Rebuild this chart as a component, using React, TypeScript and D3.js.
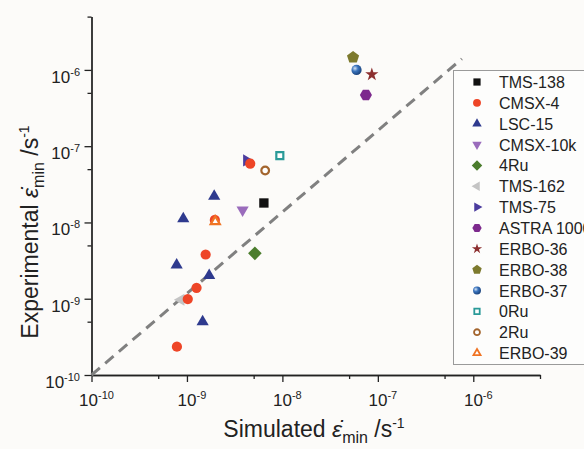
import React, { useEffect, useRef } from "react";
import * as d3 from "d3";

// simulated vs experimental minimum creep rate, [simulated, experimental] in 1/s
const tms138 = [[6.4e-9, 1.8e-8]];
const cmsx4 = [
  [4.6e-9, 5.9e-8],
  [1.96e-9, 1.08e-8],
  [1.57e-9, 3.8e-9],
  [1.26e-9, 1.39e-9],
  [1.02e-9, 9.9e-10],
  [7.85e-10, 2.35e-10],
];
const lsc15 = [
  [1.93e-9, 2.2e-8],
  [9.15e-10, 1.12e-8],
  [7.8e-10, 2.77e-9],
  [1.71e-9, 2.01e-9],
  [1.46e-9, 5.0e-10],
];
const cmsx10k = [[3.83e-9, 1.46e-8]];
const ru4 = [[5.15e-9, 3.94e-9]];
const tms162 = [[8.65e-10, 9.7e-10]];
const tms75 = [[4.22e-9, 6.5e-8]];
const astra = [[7.5e-8, 4.7e-7]];
const erbo36 = [[8.65e-8, 8.7e-7]];
const erbo38 = [[5.5e-8, 1.46e-6]];
const erbo37 = [[5.98e-8, 1.0e-6]];
const ru0 = [[9.4e-9, 7.5e-8]];
const ru2 = [[6.6e-9, 4.8e-8]];
const erbo39 = [[1.98e-9, 1.03e-8]];

const seriesNames = [
  "TMS-138", "CMSX-4", "LSC-15", "CMSX-10k", "4Ru", "TMS-162", "TMS-75",
  "ASTRA 1000", "ERBO-36", "ERBO-38", "ERBO-37", "0Ru", "2Ru", "ERBO-39",
];
const seriesValues = [
  tms138, cmsx4, lsc15, cmsx10k, ru4, tms162, tms75,
  astra, erbo36, erbo38, erbo37, ru0, ru2, erbo39,
];

const majorTicks = [1e-10, 1e-9, 1e-8, 1e-7, 1e-6];
const minorTicks = [5e-10, 5e-9, 5e-8, 5e-7, 5e-6];
const tickExponents = ["-10", "-9", "-8", "-7", "-6"];
const parityLine = [
  [1e-10, 1e-10],
  [7.6e-7, 1.4e-6],
];

// marker style per series (legend order)
const markerStyles = [
  { shape: "square", color: "#111111", open: false },
  { shape: "circle", color: "#ee4527", open: false },
  { shape: "up", color: "#2e3a8e", open: false },
  { shape: "down", color: "#9a6cbc", open: false },
  { shape: "diamond", color: "#4b7d2d", open: false },
  { shape: "left", color: "#c4c4c4", open: false },
  { shape: "right", color: "#4b3c9e", open: false },
  { shape: "hexagon", color: "#7d2a8d", open: false },
  { shape: "star", color: "#8c2f2f", open: false },
  { shape: "pentagon", color: "#7d7a2e", open: false },
  { shape: "sphere", color: "#2f64ad", open: false },
  { shape: "square", color: "#2a9a98", open: true },
  { shape: "circle", color: "#a3652e", open: true },
  { shape: "up", color: "#f07424", open: true },
];

// CMSX-4 sits on top of neighbours, ERBO-39 on top of it
const drawOrder = [0, 2, 3, 4, 5, 6, 7, 8, 9, 10, 11, 12, 1, 13];

const polygon = (n: number, r: number, rot: number) => {
  const pts = d3.range(n).map((i) => {
    const a = rot + (i * 2 * Math.PI) / n;
    return [r * Math.cos(a), r * Math.sin(a)];
  });
  return "M" + pts.map((p) => p.join(",")).join("L") + "Z";
};

const markerPath = (shape: string, size: number) => {
  const h = -Math.PI / 2;
  switch (shape) {
    case "square":
      return polygon(4, size * 0.6, Math.PI / 4);
    case "circle":
    case "sphere":
      return d3.symbol(d3.symbolCircle, size * size * 0.68)();
    case "up":
      return polygon(3, size * 0.64, h);
    case "down":
      return polygon(3, size * 0.64, Math.PI / 2);
    case "left":
      return polygon(3, size * 0.64, Math.PI);
    case "right":
      return polygon(3, size * 0.64, 0);
    case "diamond":
      return polygon(4, size * 0.62, 0);
    case "hexagon":
      return polygon(6, size * 0.55, 0);
    case "pentagon":
      return polygon(5, size * 0.58, h);
    case "star":
      return d3.symbol(d3.symbolStar, size * size * 0.45)();
    default:
      return "";
  }
};

const App = () => {
  const ref = useRef<SVGSVGElement>(null);

  useEffect(() => {
    const svg = d3.select(ref.current);
    svg.selectAll("*").remove();

    const font = "'Liberation Sans', Arial, sans-serif";
    const x = d3.scaleLog().domain([1e-10, 5e-6]).range([91.5, 540]);
    const y = d3.scaleLog().domain([1e-10, 5e-6]).range([375, 16.6]);

    svg.append("rect").attr("width", 584).attr("height", 449).attr("fill", "#fcfbf9");

    // axes
    const gx = svg.append("g").attr("transform", "translate(0,375)");
    gx.call(d3.axisBottom(x).tickValues(majorTicks).tickSize(7).tickSizeOuter(0).tickFormat(() => ""));
    gx.append("g").call(d3.axisBottom(x).tickValues(minorTicks).tickSize(4).tickSizeOuter(0).tickFormat(() => ""));
    const gy = svg.append("g").attr("transform", "translate(91.5,0)");
    gy.call(d3.axisLeft(y).tickValues(majorTicks).tickSize(7).tickSizeOuter(0).tickFormat(() => ""));
    gy.append("g").call(d3.axisLeft(y).tickValues(minorTicks).tickSize(4).tickSizeOuter(0).tickFormat(() => ""));
    svg.selectAll(".domain, .tick line").attr("stroke", "#222").attr("stroke-width", 1.3);

    // tick labels
    majorTicks.forEach((t, i) => {
      const tx = svg
        .append("text")
        .attr("x", x(t) + 5)
        .attr("y", 406)
        .attr("text-anchor", "middle")
        .attr("font-family", font)
        .attr("font-size", 17)
        .attr("fill", "#222");
      tx.append("tspan").text("10");
      tx.append("tspan").attr("dy", -7).attr("font-size", 11).text(tickExponents[i]);

      const ty = svg
        .append("text")
        .attr("x", 80)
        .attr("y", y(t) + 13)
        .attr("text-anchor", "end")
        .attr("font-family", font)
        .attr("font-size", 17)
        .attr("fill", "#222");
      ty.append("tspan").text("10");
      ty.append("tspan").attr("dy", -7).attr("font-size", 11).text(tickExponents[i]);
    });

    // axis titles
    const addTitle = (g: any, word: string) => {
      g.append("tspan").text(word + " ");
      g.append("tspan").attr("font-style", "italic").text("\u03b5\u0307");
      g.append("tspan").attr("dy", 6).attr("font-size", 16).text("min");
      g.append("tspan").attr("dy", -6).text(" /s");
      g.append("tspan").attr("dy", -9).attr("font-size", 14).text("-1");
    };
    const xt = svg
      .append("text")
      .attr("x", 314)
      .attr("y", 437)
      .attr("text-anchor", "middle")
      .attr("font-family", font)
      .attr("font-size", 23)
      .attr("fill", "#222");
    addTitle(xt, "Simulated");
    const yt = svg
      .append("text")
      .attr("transform", "translate(38,232) rotate(-90)")
      .attr("text-anchor", "middle")
      .attr("font-family", font)
      .attr("font-size", 23)
      .attr("fill", "#222");
    addTitle(yt, "Experimental");

    // parity line
    svg
      .append("path")
      .attr("d", d3.line().x((d: any) => x(d[0])).y((d: any) => y(d[1]))(parityLine as any))
      .attr("fill", "none")
      .attr("stroke", "#808080")
      .attr("stroke-width", 3)
      .attr("stroke-dasharray", "11,7");

    // sphere gradient
    const defs = svg.append("defs");
    const grad = defs
      .append("radialGradient")
      .attr("id", "sphere")
      .attr("cx", "35%")
      .attr("cy", "35%")
      .attr("r", "65%");
    grad.append("stop").attr("offset", "0%").attr("stop-color", "#d8e6f6");
    grad.append("stop").attr("offset", "45%").attr("stop-color", "#3a74bd");
    grad.append("stop").attr("offset", "100%").attr("stop-color", "#1d4680");

    const drawMarker = (g: any, i: number, cx: number, cy: number, size: number) => {
      const s = markerStyles[i];
      const p = g
        .append("path")
        .attr("d", markerPath(s.shape, s.open ? size * 0.75 : size))
        .attr("transform", `translate(${cx},${cy})`);
      if (s.open) {
        p.attr("fill", "#fff").attr("stroke", s.color).attr("stroke-width", size > 9 ? 2.2 : 1.8);
      } else if (s.shape === "sphere") {
        p.attr("fill", "url(#sphere)");
      } else {
        p.attr("fill", s.color);
      }
    };

    // points
    const pts = svg.append("g");
    drawOrder.forEach((i) => {
      seriesValues[i].forEach((d) => drawMarker(pts, i, x(d[0]), y(d[1]), 11));
    });

    // legend
    const lg = svg.append("g");
    lg.append("rect")
      .attr("x", 453.5)
      .attr("y", 70.5)
      .attr("width", 160)
      .attr("height", 294)
      .attr("fill", "#fdfdfc")
      .attr("stroke", "#9a9a9a")
      .attr("stroke-width", 1);
    seriesNames.forEach((name, i) => {
      const cy = 82 + i * 20.85;
      drawMarker(lg, i, 477, cy, 8.5);
      lg.append("text")
        .attr("x", 499)
        .attr("y", cy + 6)
        .attr("font-family", font)
        .attr("font-size", 16)
        .attr("fill", "#222")
        .text(name);
    });
  }, []);

  return (
    <svg
      ref={ref}
      width={584}
      height={449}
      style={{ position: "absolute", left: 0, top: 0, display: "block" }}
    />
  );
};

export default App;
